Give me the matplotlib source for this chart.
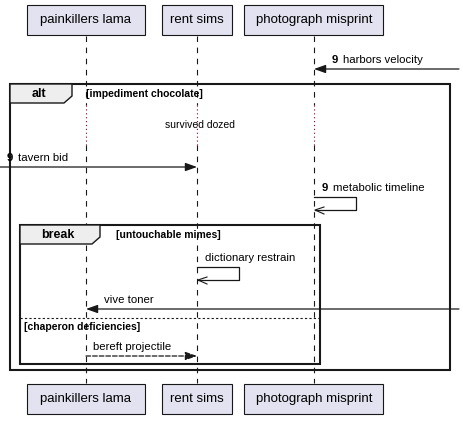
import matplotlib.pyplot as plt
from matplotlib.patches import Rectangle, Polygon

plt.rcParams['font.family'] = ['Liberation Sans', 'DejaVu Sans']

# participants and lifeline x positions
participants = ['painkillers lama', 'rent sims', 'photograph misprint']
life_x = [86, 197, 314]
box_w = [118, 70, 139]

# messages: (label, number, y, x_from, x_to, dashed)
msgs = [
    ('harbors velocity', '9', 69, 459, 314, False),
    ('tavern bid', '9', 167, 0, 197, False),
    ('vive toner', '', 309, 459, 86, False),
    ('bereft projectile', '', 356, 86, 197, True),
]
# self messages: (label, number, y, x, width)
self_msgs = [
    ('metabolic timeline', '9', 197, 314, 42),
    ('dictionary restrain', '', 267, 197, 42),
]

LINE = '#181818'
FS = 8.2

fig = plt.figure(figsize=(4.64, 4.23), dpi=100)
ax = fig.add_axes([0, 0, 1, 1])
ax.set_xlim(0, 464)
ax.set_ylim(423, 0)
ax.axis('off')

# lifelines
for x in life_x:
    ax.plot([x, x], [36, 105], color=LINE, lw=0.8, ls=(0, (5, 5)))
    ax.plot([x, x], [105, 145], color='#8b0030', lw=0.8, ls=(0, (1, 2.5)))
    ax.plot([x, x], [145, 383], color=LINE, lw=0.8, ls=(0, (5, 5)))

# participant boxes
for name, x, w in zip(participants, life_x, box_w):
    for y0 in (5, 384):
        ax.add_patch(Rectangle((x - w / 2, y0), w, 30, facecolor='#E2E2F0',
                               edgecolor=LINE, lw=0.8, zorder=3))
        ax.text(x, y0 + 15, name, ha='center', va='center', fontsize=9.5, zorder=4)


def frame(x0, y0, x1, y1, kind, tab_w, guard, gx):
    ax.add_patch(Rectangle((x0, y0), x1 - x0, y1 - y0, fill=False,
                           edgecolor=LINE, lw=1.5, zorder=2))
    ax.add_patch(Polygon([(x0, y0), (x0 + tab_w, y0), (x0 + tab_w, y0 + 12),
                          (x0 + tab_w - 8, y0 + 19), (x0, y0 + 19)],
                         facecolor='#EEEEEE', edgecolor=LINE, lw=1.0, zorder=2))
    ax.text(x0 + (tab_w - 8) / 2 + 2, y0 + 10, kind, ha='center', va='center',
            fontsize=9, fontweight='bold')
    ax.text(gx, y0 + 10, guard, ha='left', va='center', fontsize=7.5,
            fontweight='bold')


frame(10, 84, 450, 370, 'alt', 62, '[impediment chocolate]', 86)
frame(20, 225, 320, 364, 'break', 80, '[untouchable mimes]', 116)
ax.plot([20, 320], [318, 318], color=LINE, lw=0.8, ls=(0, (2, 2)))
ax.text(24, 327, '[chaperon deficiencies]', fontsize=7.5, fontweight='bold',
        va='center')

ax.text(200, 125, 'survived dozed', ha='center', va='center', fontsize=7.5)


def label(x, y, num, text):
    if num:
        ax.text(x, y, num + ' ', fontsize=FS, fontweight='bold', va='center')
        ax.text(x + 11, y, text, fontsize=FS, va='center')
    else:
        ax.text(x, y, text, fontsize=FS, va='center')


for text, num, y, xf, xt, dashed in msgs:
    ax.annotate('', xy=(xt, y), xytext=(xf, y),
                arrowprops=dict(arrowstyle='-|>,head_length=0.7,head_width=0.25',
                                color=LINE, lw=0.9, shrinkA=0, shrinkB=0,
                                ls='--' if dashed else '-'))
    lx = min(xf, xt) + (18 if xt < xf else 7)
    if xf == 0:
        lx = 7
    label(lx, y - 9, num, text)

for text, num, y, x, w in self_msgs:
    ax.plot([x, x + w, x + w, x + 1], [y, y, y + 13, y + 13], color=LINE, lw=0.9)
    ax.plot([x + 10, x + 1, x + 10], [y + 10, y + 13, y + 17], color=LINE, lw=0.8)
    label(x + 8, y - 9, num, text)

fig.savefig('out.png', dpi=100)
